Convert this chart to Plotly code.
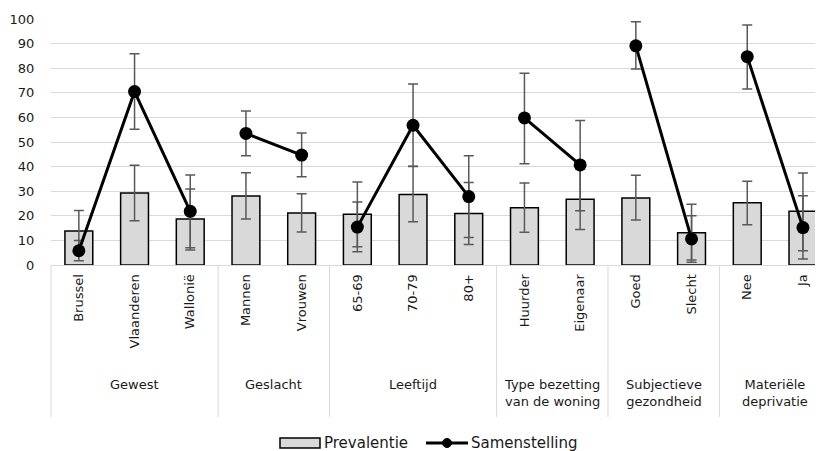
import plotly.graph_objects as go

# ---- data ----
categories = ["Brussel", "Vlaanderen", "Wallonië", "Mannen", "Vrouwen", "65-69", "70-79", "80+",
              "Huurder", "Eigenaar", "Goed", "Slecht", "Nee", "Ja"]
groups = ["Gewest", "Geslacht", "Leeftijd", "Type bezetting<br>van de woning",
          "Subjectieve<br>gezondheid", "Materiële<br>deprivatie"]
group_sizes = [3, 2, 3, 2, 2, 2]

prevalentie = [13.8, 29.3, 18.7, 28.0, 21.1, 20.6, 28.7, 20.9, 23.3, 26.7, 27.2, 13.1, 25.3, 21.8]
prevalentie_hi = [22.2, 40.5, 30.9, 37.5, 29.0, 33.7, 40.1, 33.5, 33.3, 39.0, 36.5, 24.7, 34.0, 37.4]
prevalentie_lo = [5.5, 18.0, 6.1, 18.7, 13.4, 7.4, 17.6, 8.3, 13.3, 14.4, 18.3, 2.0, 16.4, 5.8]

samenstelling = [5.8, 70.5, 21.8, 53.5, 44.7, 15.4, 56.8, 27.8, 59.8, 40.7, 89.1, 10.6, 84.7, 15.2]
samenstelling_hi = [10.0, 85.9, 36.6, 62.6, 53.7, 25.6, 73.6, 44.4, 77.9, 58.7, 98.9, 20.0, 97.6, 28.2]
samenstelling_lo = [1.7, 55.2, 7.0, 44.4, 35.9, 5.4, 40.0, 11.2, 41.2, 22.1, 79.7, 1.1, 71.5, 2.4]

y_ticks = [0, 10, 20, 30, 40, 50, 60, 70, 80, 90, 100]
legend_names = ["Prevalentie", "Samenstelling"]

# ---- styling ----
FONT = "DejaVu Sans"
TXT = "#1a1a1a"
GRID = "#d9d9d9"
ERR = "#595959"
BARFILL = "#d9d9d9"

# layout geometry (page has an 8px body margin)
W, H = 815, 443
ML, MR, MT, MB = 43, 0, 11, 186
PW, PH = W - ML - MR, H - MT - MB

xs = list(range(len(categories)))
XMIN, XMAX = -0.5, 13.36

fig = go.Figure()

fig.add_trace(go.Bar(
    x=xs, y=prevalentie, width=0.5, name=legend_names[0], showlegend=False,
    marker=dict(color=BARFILL, line=dict(color="black", width=1.5)),
    error_y=dict(type="data", symmetric=False,
                 array=[h - v for h, v in zip(prevalentie_hi, prevalentie)],
                 arrayminus=[v - l for l, v in zip(prevalentie_lo, prevalentie)],
                 color=ERR, thickness=1.5, width=5),
))

start = 0
for gi, n in enumerate(group_sizes):
    idx = list(range(start, start + n))
    fig.add_trace(go.Scatter(
        x=[xs[i] for i in idx], y=[samenstelling[i] for i in idx],
        mode="lines+markers", name=legend_names[1], showlegend=False,
        line=dict(color="black", width=3),
        marker=dict(color="black", size=13),
        error_y=dict(type="data", symmetric=False,
                     array=[samenstelling_hi[i] - samenstelling[i] for i in idx],
                     arrayminus=[samenstelling[i] - samenstelling_lo[i] for i in idx],
                     color=ERR, thickness=1.5, width=5),
        cliponaxis=False,
    ))
    start += n

# helpers: layout pixel -> paper
def px_x(p):
    return (p - ML) / PW

def px_y(p):
    return (MT + PH - p) / PH

span = XMAX - XMIN
def xpaper(v):
    return (v - XMIN) / span

shapes = []
annotations = []

# group dividers and labels
pos = -0.5
bounds = [pos]
for n in group_sizes:
    pos += n
    bounds.append(pos)
for b in bounds[:-1]:
    shapes.append(dict(type="line", xref="paper", yref="paper",
                       x0=xpaper(b), x1=xpaper(b), y0=0, y1=px_y(409),
                       line=dict(color=GRID, width=1)))
for gi, g in enumerate(groups):
    center = (bounds[gi] + bounds[gi + 1]) / 2
    annotations.append(dict(text=g, xref="x", yref="paper", x=center, y=px_y(367),
                            yanchor="top", xanchor="center", showarrow=False,
                            font=dict(family=FONT, size=13, color=TXT)))

# legend (drawn to mimic the wide swatch of the original)
LY = 435
shapes.append(dict(type="rect", xref="paper", yref="paper",
                   x0=px_x(272), x1=px_x(312), y0=px_y(LY - 5), y1=px_y(LY + 5),
                   fillcolor=BARFILL, line=dict(color="black", width=1.5)))
annotations.append(dict(text=legend_names[0], xref="paper", yref="paper",
                        x=px_x(314), y=px_y(LY), xanchor="left", yanchor="middle",
                        showarrow=False, font=dict(family=FONT, size=15, color=TXT)))
shapes.append(dict(type="line", xref="paper", yref="paper",
                   x0=px_x(418), x1=px_x(460), y0=px_y(LY), y1=px_y(LY),
                   line=dict(color="black", width=3)))
shapes.append(dict(type="circle", xref="paper", yref="paper",
                   x0=px_x(439 - 4.5), x1=px_x(439 + 4.5), y0=px_y(LY - 4.5), y1=px_y(LY + 4.5),
                   fillcolor="black", line=dict(color="black", width=1)))
annotations.append(dict(text=legend_names[1], xref="paper", yref="paper",
                        x=px_x(461), y=px_y(LY), xanchor="left", yanchor="middle",
                        showarrow=False, font=dict(family=FONT, size=15, color=TXT)))

fig.update_layout(
    width=W, height=H,
    margin=dict(l=ML, r=MR, t=MT, b=MB, autoexpand=False),
    plot_bgcolor="white", paper_bgcolor="white",
    font=dict(family=FONT, size=13, color=TXT),
    showlegend=False,
    shapes=shapes, annotations=annotations,
    xaxis=dict(range=[XMIN, XMAX], tickmode="array", tickvals=xs, ticktext=categories,
               tickangle=-90, showgrid=False, zeroline=False, automargin=False,
               showline=True, linecolor=GRID, linewidth=1,
               ticks="outside", ticklen=3, tickcolor="rgba(0,0,0,0)",
               tickfont=dict(family=FONT, size=13, color=TXT)),
    yaxis=dict(range=[0, 100], tickmode="array", tickvals=y_ticks, automargin=False,
               showgrid=True, gridcolor=GRID, gridwidth=1,
               zeroline=True, zerolinecolor=GRID, zerolinewidth=1,
               showline=False, ticks="outside", ticklen=13, tickcolor="rgba(0,0,0,0)",
               tickfont=dict(family=FONT, size=13, color=TXT)),
)

fig.write_html("out.html")
